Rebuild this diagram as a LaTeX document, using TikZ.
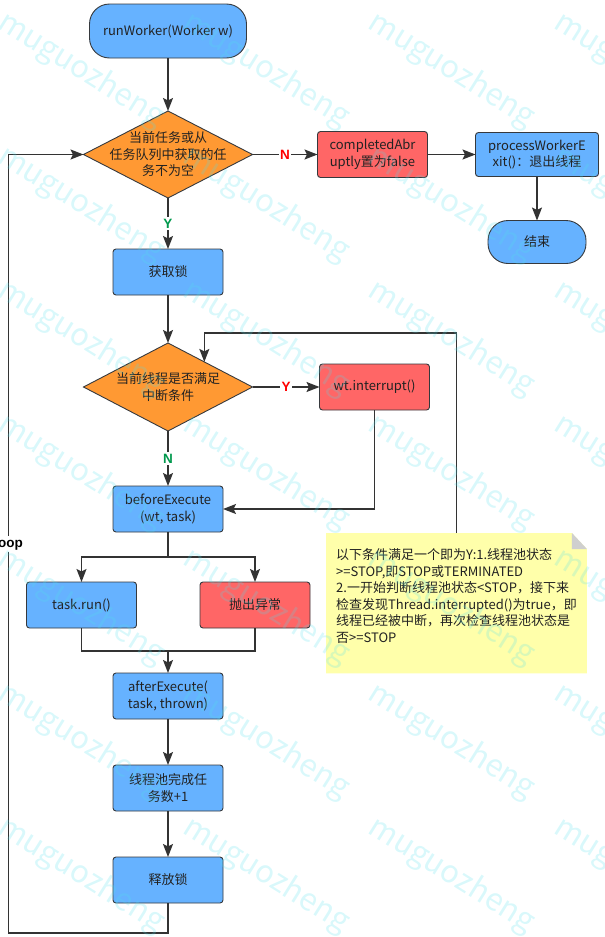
\documentclass[tikz,border=0pt]{standalone}
\usepackage{fontspec}
\setmainfont{Noto Sans CJK SC}
\setsansfont{Liberation Sans}
\usepackage{xcolor}
\usepackage{tikz}
\usetikzlibrary{positioning, shapes.geometric, arrows.meta, calc, backgrounds}
\definecolor{blueC}{HTML}{66B2FF}
\definecolor{orangeC}{HTML}{FF9933}
\definecolor{redC}{HTML}{FF6666}
\definecolor{noteC}{HTML}{FFFFAA}
\definecolor{foldC}{HTML}{CFCFCF}
\definecolor{lineC}{HTML}{333333}
\definecolor{edgeC}{HTML}{36393D}
\definecolor{textC}{HTML}{222222}
\definecolor{noC}{HTML}{FF0000}
\definecolor{yesC}{HTML}{00994D}
\definecolor{wmC}{HTML}{50E0EC}
\tikzset{E/.style={draw=lineC, line width=1.5pt, -{Stealth[length=13pt, width=10pt, inset=2.5pt]}}}
\tikzset{L/.style={draw=lineC, line width=1.5pt}}
\tikzset{Txt/.style={align=center, text=textC}}
\tikzset{Proc/.style={draw=edgeC, line width=0.9pt, fill=blueC, rounded corners=3pt, outer sep=0pt,
    minimum width=110pt, minimum height=46pt, Txt}}
\tikzset{Warn/.style={Proc, fill=redC}}
\tikzset{Term/.style={Proc, rounded corners=20pt}}
\tikzset{Cond/.style={diamond, draw=edgeC, line width=0.9pt, fill=orangeC, outer sep=0pt,
    minimum width=169pt, minimum height=87pt, inner sep=0pt, label={[Txt]center:{#1}}}}
\tikzset{Note/.style={minimum width=260.5pt, minimum height=126pt, inner xsep=10pt,
    text width=240.5pt, align=left, text=textC}}
\tikzset{Lbl/.style={fill=white, inner sep=1.5pt, font=\sffamily\bfseries\fontsize{13.5}{13.5}\selectfont}}
\tikzset{WM/.style={anchor=base west, rotate=-32, inner sep=0pt, text=wmC, text opacity=0.22,
    font=\fontsize{31}{31}\selectfont}}

\begin{document}
\begin{tikzpicture}[font=\fontsize{13}{16.5}\selectfont]
    \useasboundingbox (0,0) rectangle (605pt,-937pt);

    %% Main column
    \node[Term, minimum width=157pt, minimum height=54pt] (start) at (168pt,-31pt) {runWorker(Worker w)};
    \node[Cond={当前任务或从\\任务队列中获取的任\\务不为空}, below=53pt of start] (q1) {};
    \node[Proc, below=51pt of q1] (lock) {获取锁};
    \node[Cond={当前线程是否满足\\中断条件}, below=48pt of lock, minimum height=88pt] (q2) {};
    \node[Proc, below=55pt of q2] (before) {beforeExecute\\(wt, task)};
    \node[Proc, below=50pt of before, xshift=-86.5pt] (run) {task.run()};
    \node[Warn, below=50pt of before, xshift=87pt] (throw) {抛出异常};
    \node[Proc, below=141pt of before] (after) {afterExecute(\\task, thrown)};
    \node[Proc, below=46pt of after] (done) {线程池完成任\\务数+1};
    \node[Proc, below=46pt of done] (unlock) {释放锁};

    %% Right side
    \node[Warn, right=65pt of q1] (abrupt) {completedAbr\\uptly置为false};
    \node[Proc, right=48pt of abrupt, minimum width=123pt, minimum height=44pt] (exit) {processWorkerE\\xit()：退出线程};
    \node[Term, below=44pt of exit, minimum width=98pt, minimum height=43pt] (end) {结束};
    \node[Warn, right=67pt of q2] (intr) {wt.interrupt()};

    %% Note
    \node[Note, anchor=north west] (note) at (326pt,-533pt)
        {以下条件满足一个即为Y:1.线程池状态\\>=STOP,即STOP或TERMINATED\\2.一开始判断线程池状态<STOP，接下来\\检查发现Thread.interrupted()为true，即\\线程已经被中断，再次检查线程池状态是\\否>=STOP};
    \begin{scope}[on background layer]
      \fill[noteC] ([yshift=-14pt]note.south west) -- (note.north west) -- ([xshift=-15pt]note.north east)
          -- ([yshift=-16pt]note.north east) -- ([yshift=-14pt]note.south east) -- cycle;
      \fill[foldC] ([xshift=-15pt]note.north east) -- ([yshift=-16pt]note.north east)
          -- ([xshift=-15pt, yshift=-16pt]note.north east) -- cycle;
    \end{scope}

    %% Edges
    \draw[E] (start) -- (q1);
    \draw[E] (q1.east) -- node[Lbl, text=noC] {N} (abrupt.west);
    \draw[E] (abrupt) -- (exit);
    \draw[E] (exit) -- (end);
    \draw[E] (q1.south) -- node[Lbl, text=yesC] {Y} (lock.north);
    \draw[E] (lock) -- (q2);
    \draw[E] (q2.east) -- node[Lbl, text=noC] {Y} (intr.west);
    \draw[E] (q2.south) -- node[Lbl, text=yesC] {N} (before.north);
    \draw[E] (intr.south) |- (before.east);

    \coordinate (q2in) at ($(q2.north)!0.43!(q2.east)$);
    \draw[E] (note.north) -- ++(0,200pt) -| (q2in);

    \coordinate[below=25pt of before.south] (split);
    \draw[L] (before.south) -- (split);
    \draw[E] (split) -| (run.north);
    \draw[E] (split) -| (throw.north);

    \coordinate[below=23pt of run.south] (jl);
    \draw[L] (run.south) -- (jl) -| (throw.south);
    \draw[E] (jl -| after) -- (after.north);
    \draw[E] (after) -- (done);
    \draw[E] (done) -- (unlock);

    %% Loop back
    \coordinate (loopx) at (8.5pt,0);
    \coordinate[below=30pt of unlock.south] (b0);
    \coordinate (b1) at (b0 -| loopx);
    \draw[E] (unlock.south) -- (b0) -- (b1) -- node[Lbl, text=black] {loop} (b1 |- q1.west) -- (q1.west);

    %% Watermark
    \foreach \r in {0,...,6}
      \foreach \c in {0,...,3}
        \node[WM] (wm-\r-\c) at ({(185.3*\c-4)*1pt}, {-(27+134.2*\r)*1pt}) {muguozheng};

\end{tikzpicture}
\end{document}
